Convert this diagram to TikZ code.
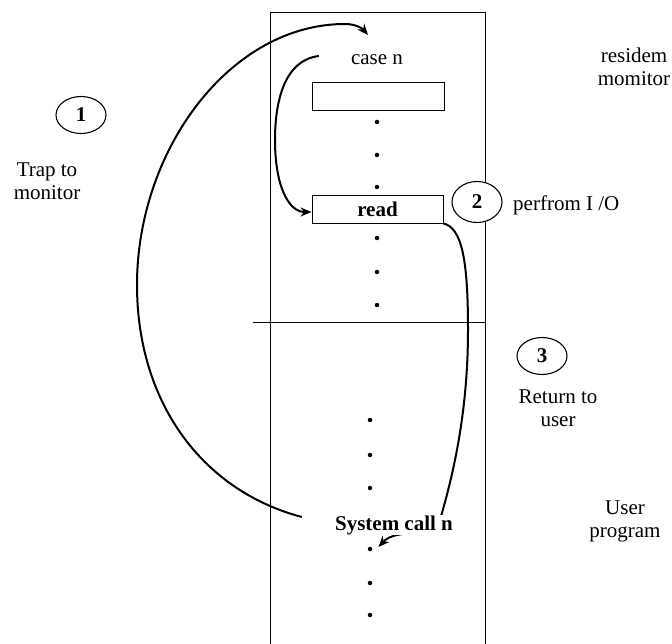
\documentclass[tikz,border=0pt]{standalone}
\usepackage{fontspec}
\setmainfont{Liberation Serif}
\usepackage{tikz}
\usetikzlibrary{arrows.meta,backgrounds,positioning,shapes.geometric}
\newcommand{\diagfont}{\fontsize{21}{23}\selectfont}

\begin{document}
\begin{tikzpicture}[
  x=1pt, y=-1pt,
  font=\diagfont,
  txt/.style={align=center, inner sep=1pt},
  slot/.style={draw, line width=0.9pt, minimum width=132pt, minimum height=28pt, inner sep=0pt},
  num/.style={draw, ellipse, fill=white, line width=1.1pt, minimum width=50pt, minimum height=37pt, inner sep=0pt, font=\diagfont\bfseries},
  dot/.style={circle, fill, inner sep=0pt, minimum size=4.5pt},
  arc/.style={-{Stealth[length=11pt,width=9pt]}, line width=2pt}
]
\useasboundingbox (0,0) rectangle (672,644);
\draw[line width=0.9pt] (270,644) -- (270,12) -- (485,12) -- (485,644);
\draw[line width=0.9pt] (253,322) -- (485,322);
\node[txt] (casen) at (377,60) {case n};
\node[slot] (slot) at (378,96) {};
\foreach \y [count=\i] in {122,155,187} \node[dot] (up\i) at (377,\y) {};
\node[slot, minimum width=131pt, font=\diagfont\bfseries] (read) at (377.5,209) {read};
\foreach \y [count=\i] in {238,272,305} \node[dot] (mid\i) at (377,\y) {};
\foreach \y [count=\i] in {420,455,488,549,583,615} \node[dot] (low\i) at (370,\y) {};
\node[txt, fill=white, inner sep=0pt, font=\diagfont\bfseries] (sys) at (394,525) {System call n};
\node[num] (n1) at (81,115) {1};
\node[num, minimum height=41pt] (n2) at (477,202) {2};
\node[num] (n3) at (542,356) {3};
\node[txt] (trap) at (47,181) {Trap to\\monitor};
\node[txt] (resid) at (634,67) {residem\\momitor};
\node[txt, anchor=west] (perf) at (512,205) {perfrom I /O};
\node[txt] (ret) at (558,408) {Return to\\user};
\node[txt] (user) at (625,521) {User\\program};
\begin{scope}[on background layer]
\draw[arc] ([shift={(-33pt,8pt)}]sys.west) .. controls (200,490) and (137,400) .. (137,285)
  .. controls (137,150) and (230,24) .. (345,24)
  .. controls (355,24) and (362,28) .. ([shift={(-9pt,25pt)}]casen.center);
\draw[arc] ([shift={(-31pt,4pt)}]casen.west) .. controls (285,60) and (275,100) .. (275,140)
  .. controls (275,185) and (288,212) .. ([yshift=-3pt]read.west);
\draw[arc] (read.south east) .. controls (462,228) and (468,260) .. (468,330)
  .. controls (468,420) and (450,485) .. (440,520)
  .. controls (432,540) and (397,527) .. ([shift={(6pt,2pt)}]low4.east);
\end{scope}
\end{tikzpicture}
\end{document}
